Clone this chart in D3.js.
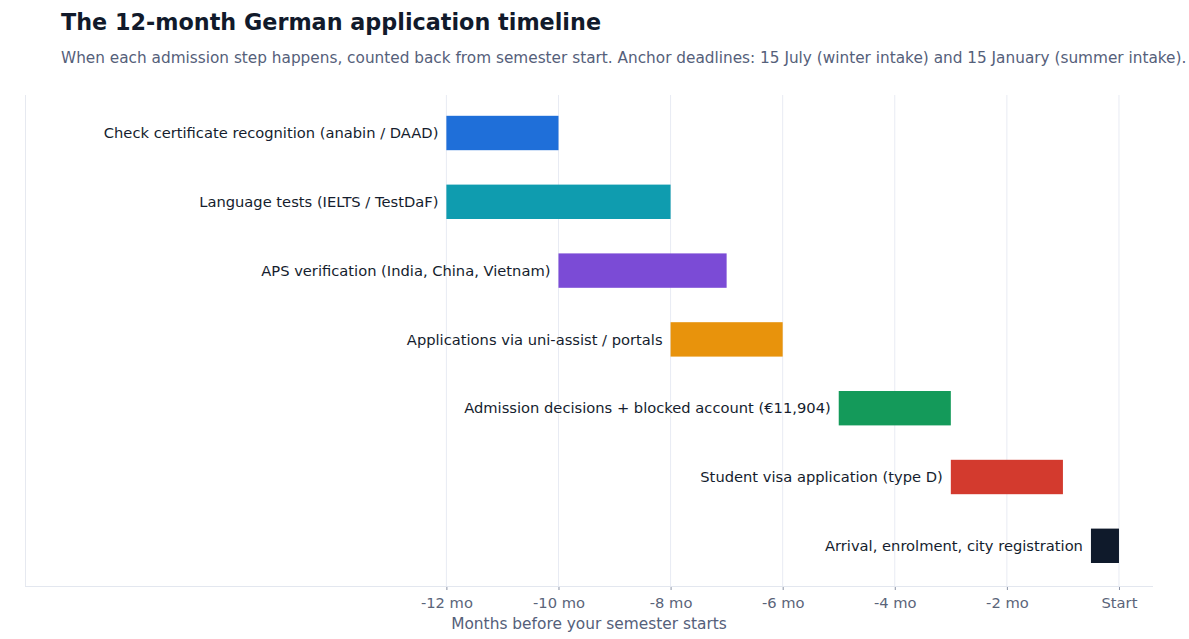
<!DOCTYPE html>
<html>
<head>
<meta charset="utf-8">
<title>German application timeline</title>
<script src="https://d3js.org/d3.v7.min.js"></script>
<style>
  body { margin: 0; background: #fff; font-family: "DejaVu Sans", sans-serif; }
  .tick text { font-family: "DejaVu Sans", sans-serif; }
</style>
</head>
<body>
<script>
// chart data
var steps = [
  "Check certificate recognition (anabin / DAAD)",
  "Language tests (IELTS / TestDaF)",
  "APS verification (India, China, Vietnam)",
  "Applications via uni-assist / portals",
  "Admission decisions + blocked account (\u20ac11,904)",
  "Student visa application (type D)",
  "Arrival, enrolment, city registration"
];
var startMonths = [-12, -12, -10, -8, -5, -3, -0.5];
var endMonths   = [-10, -8, -7, -6, -3, -1, 0];
var colors = ["#1f6fd9", "#0f9caf", "#7b4bd6", "#e8930c", "#149a5a", "#d33a2e", "#0f1a2b"];
var tickValues = [-12, -10, -8, -6, -4, -2, 0];
var tickLabels = ["-12 mo", "-10 mo", "-8 mo", "-6 mo", "-4 mo", "-2 mo", "Start"];

var width = 1189, height = 639;
var plotLeft = 25, plotRight = 1153, plotTop = 95, plotBottom = 586;

var svg = d3.select("body").append("svg")
  .attr("width", width)
  .attr("height", height);

// title + subtitle
svg.append("text")
  .attr("x", 61).attr("y", 30)
  .attr("font-size", 22.3).attr("font-weight", "bold")
  .attr("fill", "#111a2b")
  .text("The 12-month German application timeline");

svg.append("text")
  .attr("x", 61).attr("y", 63)
  .attr("font-size", 15.3)
  .attr("fill", "#55607a")
  .text("When each admission step happens, counted back from semester start. Anchor deadlines: 15 July (winter intake) and 15 January (summer intake).");

var x = d3.scaleLinear()
  .domain([-19.518, 0.607])
  .range([plotLeft, plotRight]);

var y = d3.scaleBand()
  .domain(steps)
  .range([98.6, 580.2])
  .paddingInner(0.5)
  .paddingOuter(0.25);

// grid
svg.append("g").selectAll("line")
  .data(tickValues)
  .enter().append("line")
  .attr("x1", d => x(d)).attr("x2", d => x(d))
  .attr("y1", plotTop).attr("y2", plotBottom)
  .attr("stroke", "#e8ebf3").attr("stroke-width", 1);

svg.append("line")
  .attr("x1", plotLeft + 0.5).attr("x2", plotLeft + 0.5)
  .attr("y1", plotTop).attr("y2", plotBottom)
  .attr("stroke", "#e6e9f0");

// bars
svg.append("g").selectAll("rect")
  .data(steps)
  .enter().append("rect")
  .attr("x", (d, i) => x(startMonths[i]))
  .attr("width", (d, i) => x(endMonths[i]) - x(startMonths[i]))
  .attr("y", d => y(d))
  .attr("height", y.bandwidth())
  .attr("fill", (d, i) => colors[i]);

// labels next to bars
svg.append("g").selectAll("text")
  .data(steps)
  .enter().append("text")
  .attr("x", (d, i) => x(startMonths[i]) - 8)
  .attr("y", d => y(d) + y.bandwidth() / 2)
  .attr("dy", "0.35em")
  .attr("text-anchor", "end")
  .attr("font-size", 14.7)
  .attr("fill", "#151d2e")
  .text(d => d);

// x axis
var xAxis = d3.axisBottom(x)
  .tickValues(tickValues)
  .tickFormat((d, i) => tickLabels[i])
  .tickSize(4)
  .tickPadding(8);

var ax = svg.append("g")
  .attr("transform", "translate(0," + plotBottom + ")")
  .call(xAxis);
ax.select(".domain").remove();
ax.append("line")
  .attr("x1", plotLeft).attr("x2", plotRight)
  .attr("y1", 0.5).attr("y2", 0.5)
  .attr("stroke", "#e3e7ef");
ax.selectAll(".tick line").attr("stroke", "#8a93a6");
ax.selectAll(".tick text").attr("font-size", 14.7).attr("fill", "#5a6479");

svg.append("text")
  .attr("x", (plotLeft + plotRight) / 2).attr("y", 629)
  .attr("text-anchor", "middle")
  .attr("font-size", 15.4)
  .attr("fill", "#55607a")
  .text("Months before your semester starts");
</script>
</body>
</html>
